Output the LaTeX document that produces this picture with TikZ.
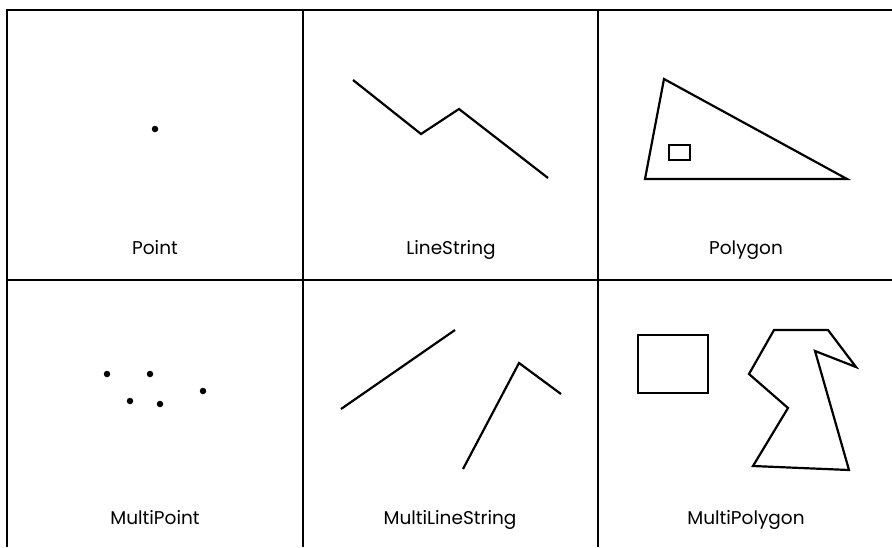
\documentclass[tikz,border=0pt]{standalone}
\usepackage{fontspec}
\setmainfont{Poppins}
\begin{document}
\begin{tikzpicture}[x=1pt,y=-1pt,
  grid/.style={line width=2.2pt},
  geom/.style={line width=2.2pt, line join=miter},
  pt/.style={fill=black, circle, inner sep=0pt, minimum size=6.5pt},
  lbl/.style={anchor=base, inner sep=0pt, font=\fontsize{18.5}{22}\selectfont}]
\useasboundingbox (0,0) rectangle (892,547);
% grid
\draw[grid] (7,547) -- (7,10) -- (892,10);
\draw[grid] (7,280) -- (892,280);
\draw[grid] (303,10) -- (303,547);
\draw[grid] (598,10) -- (598,547);
% Point
\node[pt] (p1) at (155,129) {};
\node[lbl] (lp) at (155,254) {Point};
% LineString
\draw[geom] (353,80) -- (421,134) -- (459,109) -- (548,178);
\node[lbl] (lls) at (451,254) {LineString};
% Polygon
\draw[geom] (664,79) -- (645,179) -- (847,179) -- cycle;
\draw[geom] (669,145) rectangle (690,160);
\node[lbl] (lpg) at (746,254) {Polygon};
% MultiPoint
\node[pt] (m1) at (107,374) {};
\node[pt] (m2) at (150,374) {};
\node[pt] (m3) at (203,391) {};
\node[pt] (m4) at (130,401) {};
\node[pt] (m5) at (160,404) {};
\node[lbl] (lmp) at (155,524.5) {MultiPoint};
% MultiLineString
\draw[geom] (341,409) -- (455,330);
\draw[geom] (463,469) -- (519,363) -- (561,394);
\node[lbl] (lmls) at (450,524.5) {MultiLineString};
% MultiPolygon
\draw[geom] (638,335) rectangle (708,393);
\draw[geom] (774,330) -- (828,330) -- (856,367) -- (815,351) -- (849,470) -- (753,466) -- (788,408) -- (749,374) -- cycle;
\node[lbl] (lmpg) at (746,524.5) {MultiPolygon};
\end{tikzpicture}
\end{document}
